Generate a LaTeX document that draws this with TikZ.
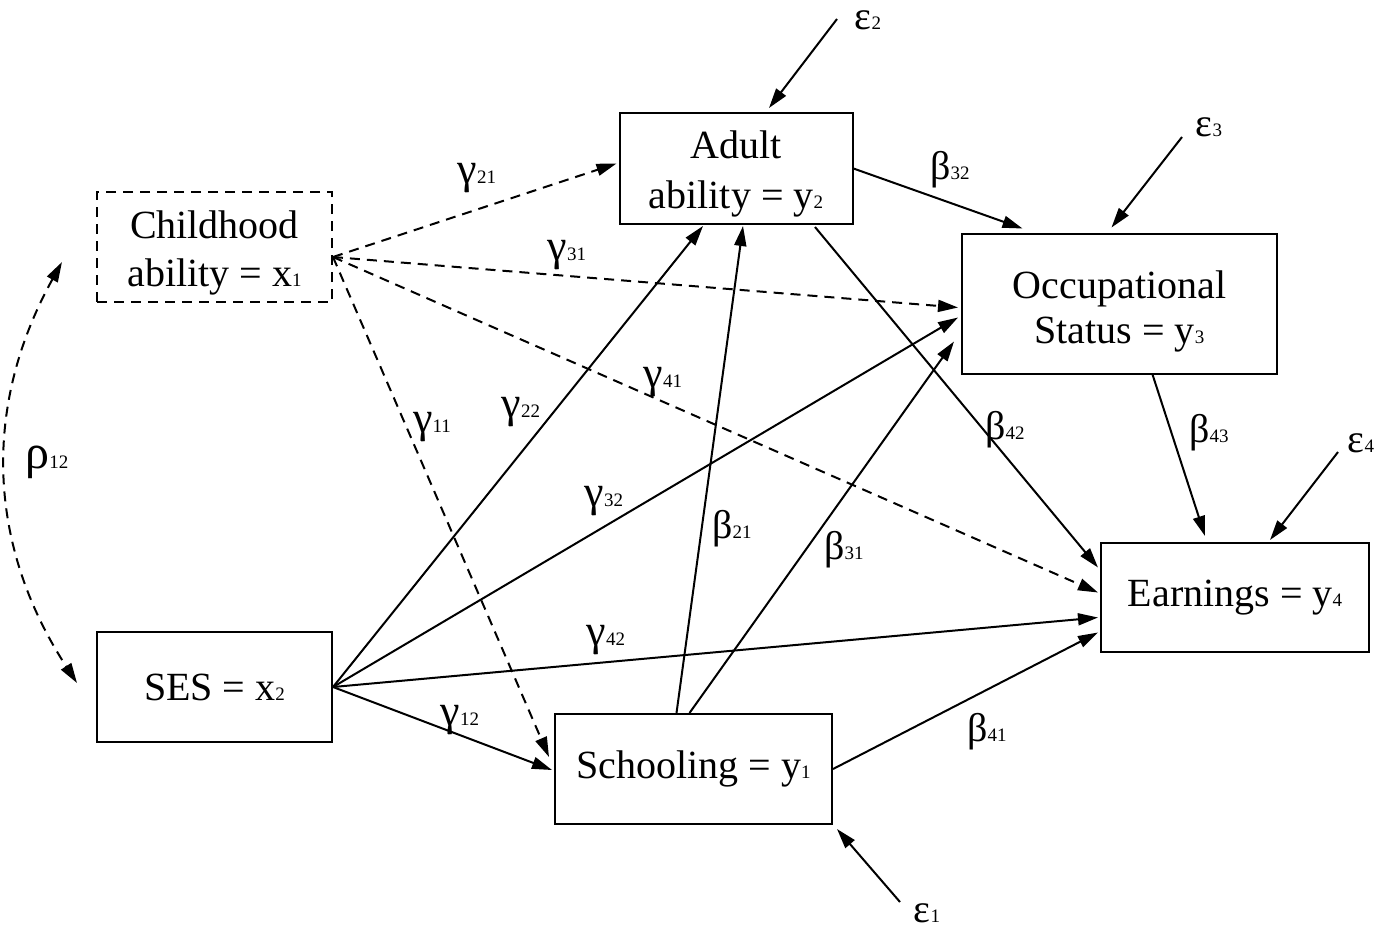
\documentclass[tikz,border=0pt]{standalone}
\usepackage{fontspec}
\setmainfont{Liberation Serif}
\usetikzlibrary{calc, positioning, arrows.meta}

\newcommand{\ix}[1]{{\fontsize{9.5}{10}\selectfont #1}}

\begin{document}
\begin{tikzpicture}[
        x=0.5pt, y=-0.5pt,
        >={Triangle[length=10pt, width=6pt]},
        var/.style={
            draw=black, line width=1pt, inner sep=0pt,
            align=center, font=\fontsize{20}{24}\selectfont
        },
        latent/.style={var, dash pattern=on 5pt off 3.5pt},
        coef/.style={font=\fontsize{20}{24}\selectfont, inner sep=0pt},
        gcoef/.style={coef, font=\fontsize{22}{24}\selectfont},
        causal/.style={draw, line width=1pt, ->},
        dcausal/.style={causal, dash pattern=on 5pt off 3.5pt}
    ]

    \useasboundingbox (0,0) rectangle (1392,928);

    % Variables
    \node[latent, minimum width=117.5pt, minimum height=55pt] (child) at (214.5,247) {\rule{0pt}{20pt}Childhood\\ability = x\ix{1}};
    \node[var, minimum width=117.5pt, minimum height=55pt] (ses) at (214.5,687) {SES = x\ix{2}};
    \node[var, minimum width=116.5pt, minimum height=55.5pt, font=\fontsize{20}{25}\selectfont] (adult) at (736,168.5) {\rule{0pt}{19pt}Adult\\ability = y\ix{2}};
    \node[var, minimum width=157.5pt, minimum height=70pt, font=\fontsize{20}{22.5}\selectfont] (occ) at (1119.5,303.5) {\rule{0pt}{22pt}Occupational\\Status = y\ix{3}};
    \node[var, minimum width=134pt, minimum height=54.5pt] (earn) at (1235,597.5) {Earnings = y\ix{4}};
    \node[var, minimum width=138.5pt, minimum height=55pt] (school) at (693.5,769) {Schooling = y\ix{1}};

    % Error terms
    \node[coef] (eps1) at (927,913) {ε\ix{1}};
    \node[coef] (eps2) at (868,20) {ε\ix{2}};
    \node[coef] (eps3) at (1209,127) {ε\ix{3}};
    \node[coef] (eps4) at (1361,443) {ε\ix{4}};
    \coordinate (e1s) at (900,902);
    \coordinate (e2s) at (837,19);
    \coordinate (e3s) at (1182,137);
    \coordinate (e4s) at (1338,452);

    % Paths from childhood ability
    \coordinate (cx) at ($(child.east)+(0,10)$);
    \draw[dcausal] (cx) -- ($(adult.west)+(-2,-5)$);
    \draw[dcausal] (cx) -- ($(occ.west)+(-3,4)$);
    \draw[dcausal] (cx) -- ($(earn.west)+(-2,-5)$);
    \draw[dcausal] (cx) -- ($(school.west)+(-5,-12)$);

    % Paths from SES
    \draw[causal] (ses.east) -- ($(adult.south)+(-33,1)$);
    \draw[causal] (ses.east) -- ($(occ.west)+(-3,14)$);
    \draw[causal] (ses.east) -- ($(earn.west)+(-2,20)$);
    \draw[causal] (ses.east) -- ($(school.west)+(-2,1)$);

    % Paths between the y's
    \draw[causal] ($(school.north)+(-17,0)$) -- ($(adult.south)+(7,1)$);
    \draw[causal] ($(school.north)+(-4,0)$) -- ($(occ.west)+(-7,38)$);
    \draw[causal] (school.east) -- ($(earn.west)+(-2,35)$);
    \draw[causal] (adult.east) -- ($(occ.north)+(-97,-4)$);
    \draw[causal] ($(adult.south)+(79,2)$) -- ($(earn.west)+(-2,-30)$);
    \draw[causal] ($(occ.south)+(33,0)$) -- ($(earn.north)+(-30,-6)$);

    % Disturbances
    \draw[causal] (e1s) -- ($(school.south east)+(4,4)$);
    \draw[causal] (e2s) -- ($(adult.north)+(33,-4)$);
    \draw[causal] (e3s) -- ($(occ.north)+(-8,-5)$);
    \draw[causal] (e4s) -- ($(earn.north)+(35,-2)$);

    % Correlation
    \draw[dcausal, <->] ($(child.west)+(-34,15)$) to[bend right=31] ($(ses.west)+(-19,-4)$);

    % Coefficients
    \node[coef, font=\fontsize{24}{24}\selectfont] (r12) at (47,462) {ρ\ix{12}};
    \node[gcoef] (g21) at (477,178) {γ\ix{21}};
    \node[gcoef] (g31) at (567,255) {γ\ix{31}};
    \node[gcoef] (g41) at (663,382) {γ\ix{41}};
    \node[gcoef] (g11) at (432,427) {γ\ix{11}};
    \node[gcoef] (g22) at (521,412) {γ\ix{22}};
    \node[gcoef] (g32) at (604,501) {γ\ix{32}};
    \node[gcoef] (g42) at (606,640) {γ\ix{42}};
    \node[gcoef] (g12) at (460,720) {γ\ix{12}};
    \node[coef] (b21) at (732,529) {β\ix{21}};
    \node[coef] (b31) at (844,550) {β\ix{31}};
    \node[coef] (b41) at (987,732) {β\ix{41}};
    \node[coef] (b32) at (950,170) {β\ix{32}};
    \node[coef] (b42) at (1005,430) {β\ix{42}};
    \node[coef] (b43) at (1209,433) {β\ix{43}};

\end{tikzpicture}
\end{document}
